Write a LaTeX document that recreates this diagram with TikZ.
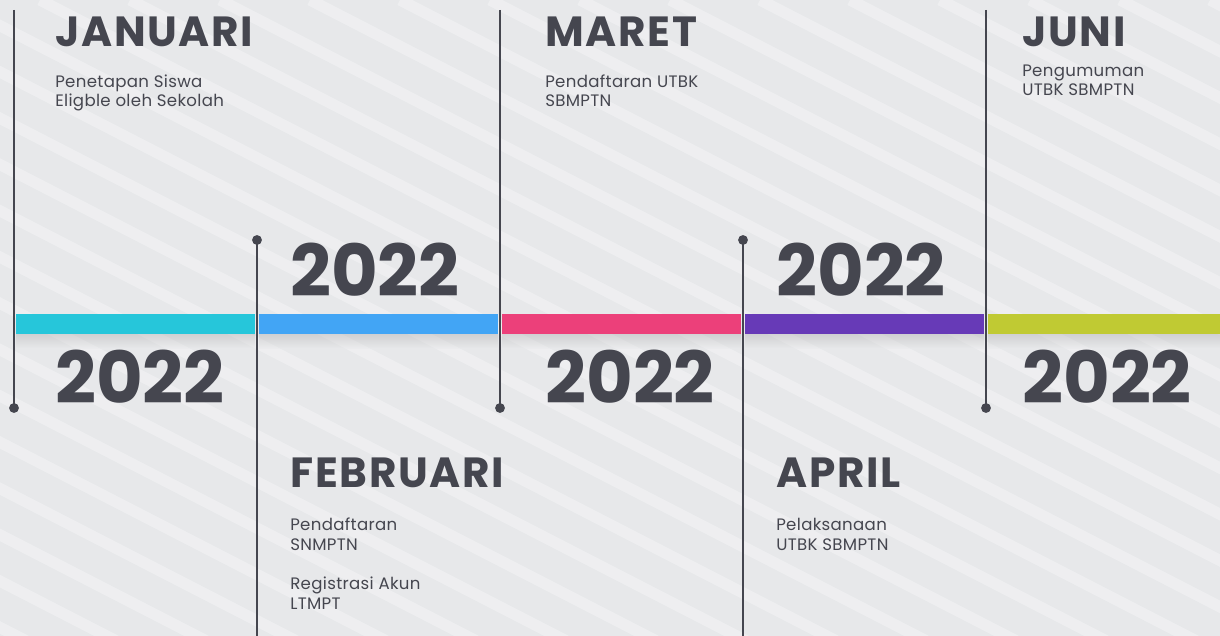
\documentclass[tikz,border=0pt]{standalone}
\usepackage{fontspec}
\setmainfont{Poppins}
\usetikzlibrary{positioning}
\definecolor{ink}{HTML}{45464F}
\definecolor{paper}{HTML}{E7E8EA}
\definecolor{barcyan}{HTML}{26C6DA}
\definecolor{barblue}{HTML}{42A5F5}
\definecolor{barpink}{HTML}{EC407A}
\definecolor{barpurple}{HTML}{673AB7}
\definecolor{barlime}{HTML}{C0CA33}
\tikzstyle{month} = [anchor=base west, 
inner sep=0, 
text=ink, 
font=\bfseries\fontsize{30}{30}\selectfont\addfontfeatures{LetterSpace=4}]
\tikzstyle{year} = [anchor=base west, 
inner sep=0, 
text=ink, 
font=\bfseries\fontsize{51}{51}\selectfont]
\tikzstyle{note} = [anchor=base west, % base sits on the last line
inner sep=0, 
text=ink, 
align=left, 
font=\fontsize{11.8}{14}\selectfont\addfontfeatures{LetterSpace=2}]
\tikzstyle{stem} = [draw=ink, line width=1.4pt]
\tikzstyle{knob} = [circle, fill=ink, inner sep=0, minimum size=7pt]
\tikzstyle{stripe} = [white, opacity=0.3, line width=8pt]

\begin{document}
\begin{tikzpicture} [x=0.025cm, y=-0.025cm]
		\useasboundingbox (0,0) rectangle (1220,636);
		\fill[paper] (0,0) rectangle (1220,636);
		\begin{scope}
		\clip (0,0) rectangle (1220,636);
		\foreach \s in {-1400,-1310,...,1300}
			\draw[stripe] (\s,0) -- ++(1400,720);
		% bars
		\foreach \c [count=\i from 0] in {barcyan,barblue,barpink,barpurple,barlime}{
			\shade[top color=black!35, bottom color=paper, opacity=0.35] ({16+243*\i},334) rectangle ++(239,14);
			\fill[\c] ({16+243*\i},314) rectangle ++(239,20);
		}
		\end{scope}
		% stems
		\coordinate (t1) at (14,10);
		\coordinate (t3) at (500,10);
		\coordinate (t5) at (986,10);
		\coordinate (b2) at (257,636);
		\coordinate (b4) at (743,636);
		\node (k1) [knob] at (14,408) {};
		\node (k2) [knob] at (257,240) {};
		\node (k3) [knob] at (500,408) {};
		\node (k4) [knob] at (743,240) {};
		\node (k5) [knob] at (986,408) {};
		\draw [stem] (t1) -- (k1.center);
		\draw [stem] (k2.center) -- (b2);
		\draw [stem] (t3) -- (k3.center);
		\draw [stem] (k4.center) -- (b4);
		\draw [stem] (t5) -- (k5.center);
		% months
		\node (jan) [month] at (55,47) {JANUARI};
		\node (feb) [month] at (290,487) {FEBRUARI};
		\node (mar) [month] at (545,47) {MARET};
		\node (apr) [month] at (776,487) {APRIL};
		\node (jun) [month] at (1022,47) {JUNI};
		% notes
		\node (jan1) [note] at (55,107) {Penetapan Siswa\\Eligble oleh Sekolah};
		\node (feb1) [note] at (290,550) {Pendaftaran\\SNMPTN};
		\node (feb2) [note] at (290,609) {Registrasi Akun\\LTMPT};
		\node (mar1) [note] at (545,107) {Pendaftaran UTBK\\SBMPTN};
		\node (apr1) [note] at (776,550) {Pelaksanaan\\UTBK SBMPTN};
		\node (jun1) [note] at (1022,96) {Pengumuman\\UTBK SBMPTN};
		% years
		\node (yr1) [year] at (55,403) {2022};
		\node (yr2) [year] at (290,296) {2022};
		\node (yr3) [year] at (545,403) {2022};
		\node (yr4) [year] at (776,296) {2022};
		\node (yr5) [year] at (1022,403) {2022};
	\end{tikzpicture}
\end{document}
